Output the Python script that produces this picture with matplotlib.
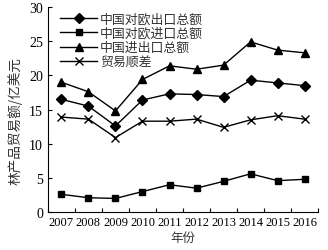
import matplotlib
matplotlib.use("Agg")
import matplotlib.pyplot as plt
import numpy as np

years = ["2007", "2008", "2009", "2010", "2011", "2012", "2013", "2014", "2015", "2016"]
export_eu = [16.5, 15.5, 12.6, 16.4, 17.3, 17.2, 16.9, 19.3, 18.9, 18.5]
import_eu = [2.6, 2.1, 2.0, 3.0, 4.0, 3.5, 4.5, 5.6, 4.6, 4.8]
total = [19.0, 17.6, 14.8, 19.4, 21.4, 20.9, 21.5, 24.9, 23.7, 23.3]
surplus = [13.9, 13.6, 10.9, 13.3, 13.3, 13.6, 12.4, 13.5, 14.1, 13.6]
labels = ["中国对欧出口总额", "中国对欧进口总额", "中国进出口总额", "贸易顺差"]

cjk = ["Noto Sans CJK SC", "DejaVu Sans"]
serif = "Liberation Serif"

fig = plt.figure(figsize=(3.28, 2.51), dpi=100)
ax = fig.add_axes([0.146, 0.151, 0.824, 0.817])
x = np.arange(len(years))
kw = dict(color="black", lw=1.0)
ax.plot(x, export_eu, marker="D", ms=5, label=labels[0], **kw)
ax.plot(x, import_eu, marker="s", ms=5, label=labels[1], **kw)
ax.plot(x, total, marker="^", ms=6, label=labels[2], **kw)
ax.plot(x, surplus, marker="x", ms=6, mew=1.0, label=labels[3], **kw)

ax.set_xlim(-0.5, len(years) - 0.5)
ax.set_ylim(0, 30)
ax.set_yticks([0, 5, 10, 15, 20, 25, 30])
ax.set_xticks(x)
ax.set_xticklabels(years, fontfamily=serif, fontsize=9)
ax.set_xticks(np.arange(len(years) + 1) - 0.5, minor=True)
ax.tick_params(axis="x", which="major", length=0, pad=3)
ax.tick_params(axis="x", which="minor", direction="in", length=3, width=0.8)
ax.tick_params(axis="y", direction="in", length=3, width=0.8, labelsize=10)
for t in ax.get_yticklabels():
    t.set_fontfamily(serif)
for s in ["top", "right"]:
    ax.spines[s].set_visible(False)
for s in ["left", "bottom"]:
    ax.spines[s].set_linewidth(0.8)

ax.set_ylabel("林产品贸易额/亿美元", fontfamily=cjk, fontsize=9.8, color="#333333")
ax.yaxis.set_label_coords(-0.095, 0.45)
ax.set_xlabel("年份", fontfamily=cjk, fontsize=9, color="#333333", labelpad=2)

leg = ax.legend(loc="upper left", frameon=False, prop={"family": cjk, "size": 9.3},
                handlelength=2.9, handletextpad=0.2, labelspacing=0.12,
                borderaxespad=0.0, bbox_to_anchor=(0.025, 1.0))
for t in leg.get_texts():
    t.set_color("#333333")

fig.savefig("out.png", dpi=100)
